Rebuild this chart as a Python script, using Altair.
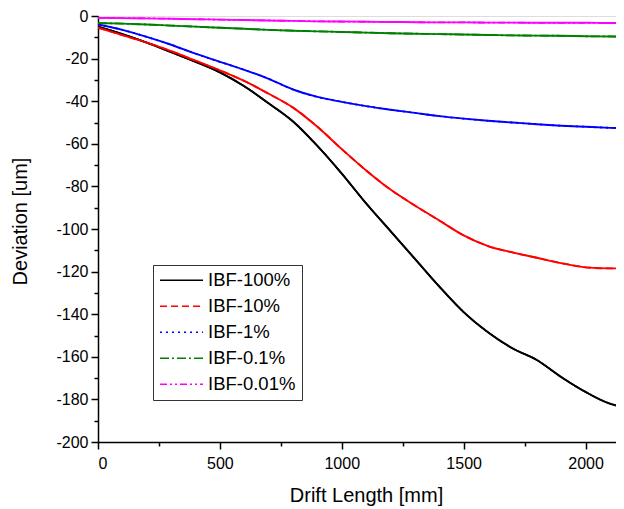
import altair as alt
import pandas as pd

drift_mm = [0, 100, 200, 300, 400, 500, 600, 700, 800, 900, 1000, 1100,
            1200, 1300, 1400, 1500, 1600, 1700, 1800, 1900, 2000, 2100, 2150]

ibf_100 = [-5.0, -8.5, -12.5, -17.0, -21.5, -26.5, -33.0, -41.0, -49.5, -61.0, -74.0, -88.0,
           -101.0, -114.0, -127.0, -139.0, -148.5, -156.0, -161.5, -169.5, -176.5, -182.0, -183.5]
ibf_10 = [-5.5, -9.0, -12.5, -16.5, -21.0, -25.5, -30.5, -36.5, -43.0, -52.0, -62.5, -72.5,
          -81.5, -89.0, -96.0, -103.0, -108.0, -111.0, -113.5, -116.0, -118.0, -118.5, -118.5]
ibf_1 = [-4.0, -6.5, -9.8, -13.5, -17.7, -21.5, -25.3, -29.5, -34.5, -38.0, -40.3, -42.3,
         -44.0, -45.5, -47.0, -48.2, -49.2, -50.0, -50.8, -51.5, -52.0, -52.5, -52.7]
ibf_01 = [-3.3, -3.6, -4.0, -4.5, -5.0, -5.5, -6.0, -6.5, -6.9, -7.2, -7.5, -7.8,
          -8.1, -8.3, -8.5, -8.7, -8.9, -9.1, -9.2, -9.3, -9.5, -9.6, -9.7]
ibf_001 = [-0.9, -1.0, -1.1, -1.3, -1.5, -1.7, -1.9, -2.1, -2.3, -2.5, -2.6, -2.7,
           -2.8, -2.9, -3.0, -3.0, -3.1, -3.1, -3.2, -3.2, -3.2, -3.3, -3.3]

series_names = ["IBF-100%", "IBF-10%", "IBF-1%", "IBF-0.1%", "IBF-0.01%"]
series_values = [ibf_100, ibf_10, ibf_1, ibf_01, ibf_001]
colors = ["#000000", "#ff0000", "#0000ff", "#008000", "#ff00ff"]
dashes = [[1, 0], [7, 4], [2, 4], [9, 3, 2, 3], [7, 3, 2, 3, 2, 3]]

rows = []
for name, vals in zip(series_names, series_values):
    for x, y in zip(drift_mm, vals):
        rows.append({"drift": x, "dev": y, "series": name})
df = pd.DataFrame(rows)

FONT = "Liberation Sans"

x_enc = alt.X(
    "drift:Q",
    scale=alt.Scale(domain=[0, 2125], nice=False, zero=False),
    axis=alt.Axis(
        title="Drift Length [mm]",
        values=list(range(0, 2126, 250)),
        labelExpr="datum.value % 500 === 0 ? '' + datum.value : ''",
        tickSize={"condition": {"test": "datum.value % 500 === 0", "value": 7}, "value": 4},
        grid=False,
        domainColor="black", domainWidth=1.5,
        tickColor="black", tickWidth=1.5,
        labelFont=FONT, labelFontSize=16, labelColor="black", labelPadding=6,
        titleFont=FONT, titleFontSize=20, titleFontWeight="normal", titleColor="black",
        titleX=268, titleY=53, titleAlign="center", titleBaseline="middle",
    ),
)
y_enc = alt.Y(
    "dev:Q",
    scale=alt.Scale(domain=[-200, 0], nice=False, zero=False),
    axis=alt.Axis(
        title="Deviation [um]",
        values=list(range(-200, 1, 10)),
        labelExpr="datum.value % 20 === 0 ? '' + datum.value : ''",
        tickSize={"condition": {"test": "datum.value % 20 === 0", "value": 7}, "value": 4},
        grid=False,
        domainColor="black", domainWidth=1.5,
        tickColor="black", tickWidth=1.5,
        labelFont=FONT, labelFontSize=16, labelColor="black", labelPadding=3,
        titleFont=FONT, titleFontSize=20, titleFontWeight="normal", titleColor="black",
        titleX=-78, titleY=205, titleAngle=270, titleAlign="center", titleBaseline="middle",
    ),
)

legend = alt.Legend(
    title=None, orient="none", legendX=55, legendY=249,
    symbolType="stroke", symbolSize=1849, symbolStrokeWidth=1.5,
    labelFont=FONT, labelFontSize=18.5, labelColor="black", labelOffset=4,
    clipHeight=18.5, rowPadding=7, padding=6, strokeColor="#333333", fillColor="white",
)

color_scale = alt.Scale(domain=series_names, range=colors)

dashed = alt.Chart(df).mark_line(strokeWidth=1.8, clip=True, interpolate="monotone").encode(
    x=x_enc, y=y_enc,
    color=alt.Color("series:N", scale=color_scale, legend=legend),
    strokeDash=alt.StrokeDash("series:N", scale=alt.Scale(domain=series_names, range=dashes), legend=legend),
)
solid = alt.Chart(df).mark_line(strokeWidth=1.9, clip=True, interpolate="monotone").encode(
    x=x_enc, y=y_enc,
    color=alt.Color("series:N", scale=color_scale, legend=None),
    detail="series:N",
)

chart = alt.layer(dashed, solid).properties(
    width=518, height=426,
    autosize=alt.AutoSizeParams(type="none"),
    padding={"left": 90, "top": 8, "right": 0, "bottom": 68},
).configure_view(stroke=None).configure(background="white")

chart.save("out.html", embed_options={"renderer": "svg", "actions": False})
